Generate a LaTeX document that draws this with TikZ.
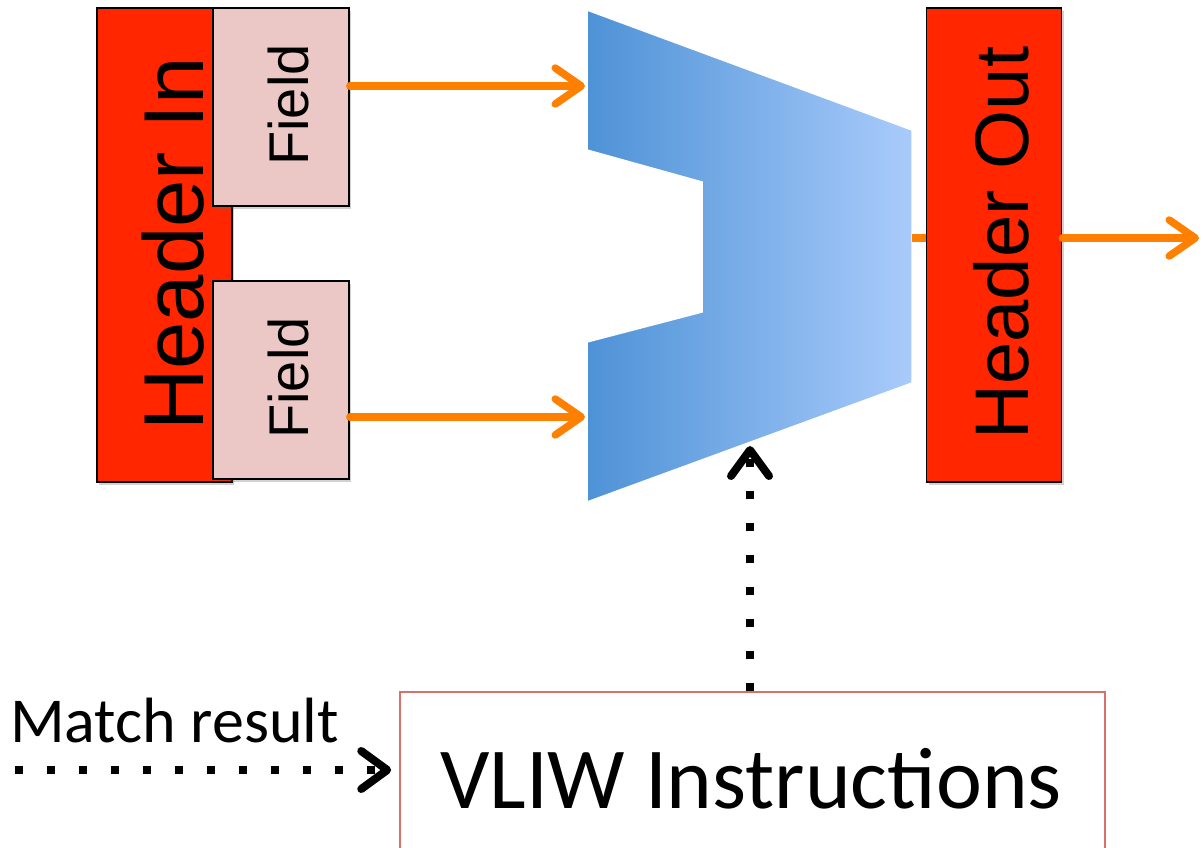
\documentclass[tikz,border=0pt]{standalone}
\usepackage{fontspec}
\setmainfont{Liberation Sans}
\newfontfamily\calibri{Carlito}
\usetikzlibrary{arrows.meta,shadows}
\definecolor{hdrred}{HTML}{FF2600}
\definecolor{fieldpink}{HTML}{EBC7C6}
\definecolor{wirecol}{HTML}{FF7F00}
\definecolor{muxdark}{HTML}{4E92D6}
\definecolor{muxlight}{HTML}{A9CBFB}
\definecolor{boxline}{HTML}{D8716B}
\begin{document}
\begin{tikzpicture}[x=1bp,y=-1bp,
  softshadow/.style={drop shadow={shadow xshift=2bp,shadow yshift=-3bp,opacity=.3,fill=black!60}},
  hdrbox/.style={draw=black,line width=1.6bp,fill=hdrred,minimum width=135bp,
    minimum height=474bp,inner sep=0pt,softshadow},
  fieldbox/.style={draw=black,line width=1.6bp,fill=fieldpink,minimum width=136bp,
    minimum height=198bp,inner sep=0pt,softshadow},
  vlabel/.style={rotate=90,anchor=base,inner sep=0pt},
  wire/.style={draw=wirecol,line width=7.5bp,line cap=round,
    -{Straight Barb[length=26bp,width=36bp,round]}},
  wirestub/.style={draw=wirecol,line width=7.5bp},
  ctrl/.style={draw=black,line width=8bp,dash pattern=on 8bp off 24bp,
    -{Straight Barb[length=26bp,width=38bp,round]}},
]
\useasboundingbox (0,0) rectangle (1203,848);

% header in and its two fields
\node[hdrbox] (hin) at (164.5,245) {};
\node[vlabel] (hinlabel) at (203,244) {\fontsize{85bp}{85bp}\selectfont Header In};
\node[fieldbox] (f1) at (281,107) {};
\node[vlabel] (f1label) at (308,105) {\fontsize{56bp}{56bp}\selectfont Field};
\node[fieldbox] (f2) at (281,380) {};
\node[vlabel] (f2label) at (308,378) {\fontsize{56bp}{56bp}\selectfont Field};

% multiplexer body with its input notch
\shadedraw[left color=muxdark,right color=muxlight,draw=white,line width=1.5bp,line join=miter]
  (587,10) -- (912,130) -- (912,383) -- (587,502) -- (587,342)
  -- (702,312) -- (702,182) -- (587,150) -- cycle;
\coordinate (in1) at (585,86);
\coordinate (in2) at (585,417);
\coordinate (muxout) at (912,238);
\coordinate (sel) at (750,446);

% header out
\node[hdrbox] (hout) at (994,245) {};
\node[vlabel] (houtlabel) at (1028,243) {\fontsize{76bp}{76bp}\selectfont Header Out};
\coordinate (exit) at (1199,238);

% VLIW instruction box, running off the bottom edge
\node[draw=boxline,line width=1.5bp,fill=white,minimum width=705bp,minimum height=176bp,
  inner sep=0pt] (vliw) at (752.5,780) {};
\node[anchor=base,inner sep=0pt] (vliwlabel) at (751,808)
  {\calibri\fontsize{87bp}{87bp}\selectfont VLIW Instructions};
\node[anchor=base west,inner sep=0pt] (match) at (10,742)
  {\calibri\fontsize{64bp}{64bp}\selectfont Match result};
\coordinate (mr) at (15,770);

% data paths
\draw[wire] (f1.east |- in1) -- (in1);
\draw[wire] (f2.east |- in2) -- (in2);
\draw[wirestub] (muxout) -- (hout.west |- muxout);
\draw[wire] (hout.east |- muxout) -- (exit);

% control paths
\draw[ctrl] (vliw.north -| sel) -- (sel);
\draw[ctrl,shorten >=8bp] (mr) -- (vliw.west |- mr);
\end{tikzpicture}
\end{document}
